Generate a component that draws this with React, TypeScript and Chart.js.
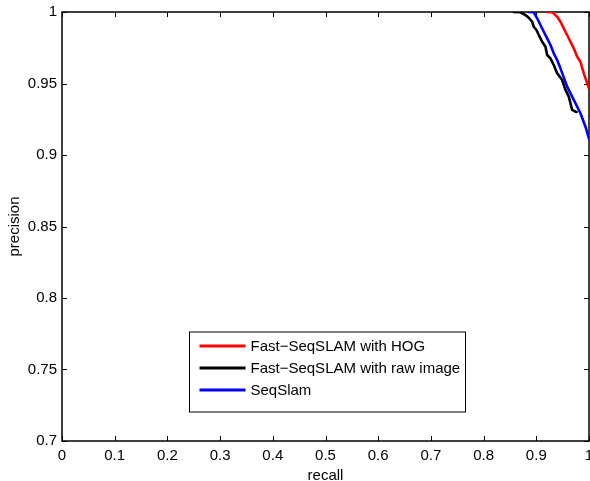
import React, { useEffect, useRef } from "react";
import { Chart, registerables } from "chart.js";

Chart.register(...registerables);

// ---- data ----
const xTicks = [0, 0.1, 0.2, 0.3, 0.4, 0.5, 0.6, 0.7, 0.8, 0.9, 1];
const xTickLabels = ["0", "0.1", "0.2", "0.3", "0.4", "0.5", "0.6", "0.7", "0.8", "0.9", "1"];
const yTicks = [0.7, 0.75, 0.8, 0.85, 0.9, 0.95, 1];
const yTickLabels = ["0.7", "0.75", "0.8", "0.85", "0.9", "0.95", "1"];

const seriesLabels = ["Fast\u2212SeqSLAM with HOG", "Fast\u2212SeqSLAM with raw image", "SeqSlam"];
const seriesColors = ["#ff0000", "#000000", "#0000ff"];

const hogRecall = [0.9206, 0.9301, 0.9396, 0.9459, 0.9521, 0.9586, 0.9648, 0.9711, 0.9776, 0.9838, 0.9901, 1.0];
const hogPrecision = [1.0, 0.9999, 0.9967, 0.9932, 0.9886, 0.9839, 0.9792, 0.9746, 0.9687, 0.9652, 0.9571, 0.9466];

const rawRecall = [0.8572, 0.8699, 0.8794, 0.8857, 0.8921, 0.8952, 0.9003, 0.9047, 0.9111, 0.9174, 0.9206, 0.9269, 0.9331, 0.9396, 0.9491, 0.9554, 0.9616, 0.9681, 0.9744, 0.9765];
const rawPrecision = [1.0, 0.9998, 0.9979, 0.996, 0.9932, 0.9897, 0.9874, 0.9839, 0.9792, 0.9757, 0.9699, 0.9676, 0.9629, 0.9571, 0.9524, 0.9455, 0.9408, 0.9315, 0.9303, 0.9301];

const seqRecall = [0.8857, 0.8952, 0.9016, 0.9079, 0.9142, 0.9206, 0.9269, 0.9331, 0.9396, 0.9458, 0.9586, 0.9711, 0.9838, 0.9933, 1.0];
const seqPrecision = [1.0, 0.9998, 0.9956, 0.9909, 0.9862, 0.9816, 0.9769, 0.9711, 0.9664, 0.9606, 0.9478, 0.9385, 0.9292, 0.9198, 0.9115];

const FONT = "'Liberation Sans', Arial, Helvetica, sans-serif";

function toPoints(xs: number[], ys: number[]) {
  return xs.map((x, i) => ({ x, y: ys[i] }));
}

const framePlugin = {
  id: "matlabFrame",
  beforeDatasetsDraw(chart: any) {
    const { ctx, chartArea, scales } = chart;
    const { left, right, top, bottom } = chartArea;
    const xs = scales.x;
    const ys = scales.y;
    ctx.save();
    ctx.strokeStyle = "#000";
    ctx.lineWidth = 1;
    ctx.beginPath();
    xTicks.forEach((v) => {
      const px = Math.round(xs.getPixelForValue(v)) + 0.5;
      ctx.moveTo(px, bottom);
      ctx.lineTo(px, bottom - 5);
      ctx.moveTo(px, top);
      ctx.lineTo(px, top + 5);
    });
    yTicks.forEach((v) => {
      const py = Math.round(ys.getPixelForValue(v)) + 0.5;
      ctx.moveTo(left, py);
      ctx.lineTo(left + 5, py);
      ctx.moveTo(right, py);
      ctx.lineTo(right - 5, py);
    });
    ctx.stroke();
    ctx.lineWidth = 1.5;
    ctx.strokeRect(left, top, right - left, bottom - top);
    ctx.restore();
  },
  afterDraw(chart: any) {
    const { ctx, chartArea } = chart;
    const { left, bottom } = chartArea;
    const bx = left + 127.5;
    const by = bottom - 109;
    const bw = 276;
    const bh = 80;
    ctx.save();
    ctx.fillStyle = "#fff";
    ctx.fillRect(bx, by, bw, bh);
    ctx.strokeStyle = "#000";
    ctx.lineWidth = 1;
    ctx.strokeRect(bx, by, bw, bh);
    ctx.font = `15px ${FONT}`;
    ctx.textBaseline = "middle";
    ctx.textAlign = "left";
    seriesLabels.forEach((label, i) => {
      const yy = by + 14 + i * 22;
      ctx.strokeStyle = seriesColors[i];
      ctx.lineWidth = 3;
      ctx.beginPath();
      ctx.moveTo(bx + 10, yy);
      ctx.lineTo(bx + 56, yy);
      ctx.stroke();
      ctx.fillStyle = "#000";
      ctx.fillText(label, bx + 61, yy + 0.5);
    });
    ctx.restore();
  },
};

export default function App() {
  const canvasRef = useRef<HTMLCanvasElement | null>(null);

  useEffect(() => {
    const canvas = canvasRef.current;
    if (!canvas) return;
    const series = [
      { r: hogRecall, p: hogPrecision, order: 2 },
      { r: rawRecall, p: rawPrecision, order: 1 },
      { r: seqRecall, p: seqPrecision, order: 0 },
    ];
    const chart = new Chart(canvas, {
      type: "line",
      data: {
        datasets: series.map((s, i) => ({
          label: seriesLabels[i],
          data: toPoints(s.r, s.p),
          borderColor: seriesColors[i],
          backgroundColor: seriesColors[i],
          borderWidth: 2.6,
          pointRadius: 0,
          tension: 0,
          fill: false,
          order: s.order,
          borderJoinStyle: "round" as const,
          borderCapStyle: "round" as const,
        })),
      },
      options: {
        animation: false,
        responsive: false,
        devicePixelRatio: 1,
        layout: { padding: { top: 12, right: 1, left: 0, bottom: 0 } },
        plugins: { legend: { display: false }, tooltip: { enabled: false } },
        scales: {
          x: {
            type: "linear",
            min: 0,
            max: 1,
            afterBuildTicks: (scale: any) => {
              scale.ticks = xTicks.map((v) => ({ value: v }));
            },
            afterFit: (scale: any) => {
              scale.height = 40;
              scale.paddingLeft = 0;
              scale.paddingRight = 0;
            },
            ticks: {
              autoSkip: false,
              maxRotation: 0,
              padding: 6,
              color: "#000",
              font: { family: FONT, size: 15 },
              callback: (value: any) => {
                const idx = xTicks.findIndex((t) => Math.abs(t - Number(value)) < 1e-6);
                return idx >= 0 ? xTickLabels[idx] : "";
              },
            },
            grid: { display: false, drawTicks: false },
            border: { display: false },
            title: {
              display: true,
              text: "recall",
              color: "#000",
              font: { family: FONT, size: 15 },
              padding: { top: 0, bottom: -4 },
            },
          },
          y: {
            type: "linear",
            min: 0.7,
            max: 1,
            afterBuildTicks: (scale: any) => {
              scale.ticks = yTicks.map((v) => ({ value: v }));
            },
            afterFit: (scale: any) => {
              scale.width = 62;
              scale.paddingTop = 0;
              scale.paddingBottom = 0;
            },
            ticks: {
              autoSkip: false,
              padding: 5,
              color: "#000",
              font: { family: FONT, size: 15 },
              callback: (value: any) => {
                const idx = yTicks.findIndex((t) => Math.abs(t - Number(value)) < 1e-6);
                return idx >= 0 ? yTickLabels[idx] : "";
              },
            },
            grid: { display: false, drawTicks: false },
            border: { display: false },
            title: {
              display: true,
              text: "precision",
              color: "#000",
              font: { family: FONT, size: 15 },
              padding: { top: 6, bottom: 0 },
            },
          },
        },
      },
      plugins: [framePlugin],
    } as any);
    return () => chart.destroy();
  }, []);

  return (
    <div style={{ position: "fixed", left: 0, top: 0, width: 590, height: 481, background: "#fff" }}>
      <canvas ref={canvasRef} width={590} height={481} style={{ display: "block", width: 590, height: 481 }} />
    </div>
  );
}
